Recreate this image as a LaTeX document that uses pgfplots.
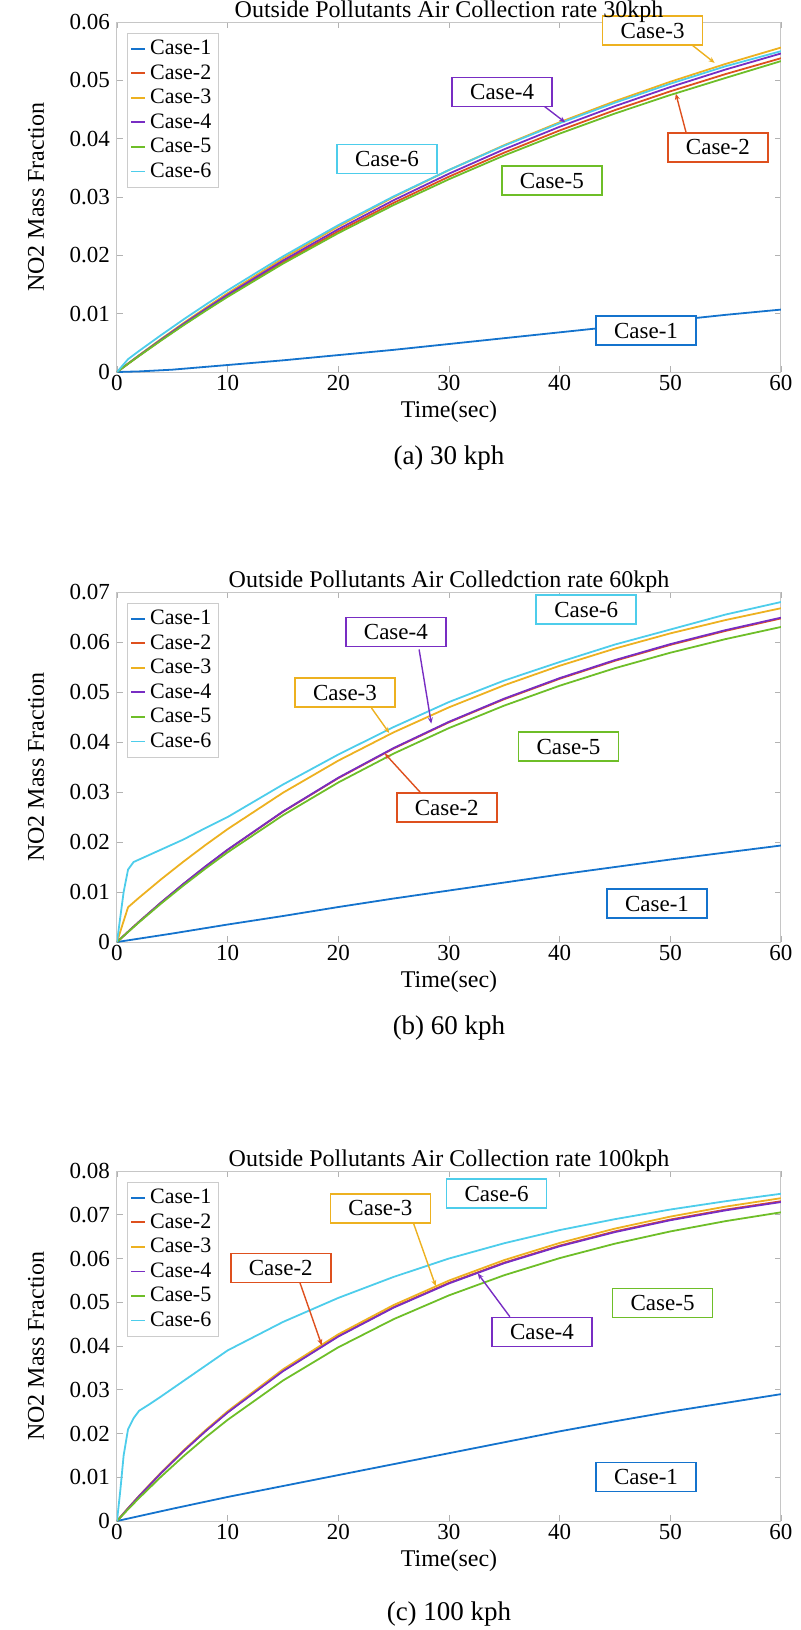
\documentclass[border=0pt]{standalone}
\usepackage{pgfplots}
\pgfplotsset{compat=1.18}
\usepackage{fontspec}
\setmainfont{Liberation Serif}
\usetikzlibrary{arrows.meta}
\definecolor{c1}{RGB}{20,115,205}
\definecolor{c2}{RGB}{222,80,30}
\definecolor{c3}{RGB}{237,177,32}
\definecolor{c4}{RGB}{120,45,195}
\definecolor{c5}{RGB}{110,190,40}
\definecolor{c6}{RGB}{77,205,235}
\tikzset{
  lab/.style={draw=#1, fill=white, line width=0.8pt, minimum width=50pt,
    minimum height=14.5pt, inner sep=1pt, font=\fontsize{11.5}{11.5}\selectfont},
  arr/.style={draw=#1, line width=0.7pt, -{Stealth[length=3pt,width=2.5pt]}},
}
\pgfplotsset{
  myax/.style={
    scale only axis, width=332pt, height=175pt,
    anchor=north west,
    xmin=0, xmax=60, ymin=0,
    xtick={0,10,...,60},
    axis line style={gray!45, line width=0.5pt},
    tick style={gray!60, line width=0.4pt}, major tick length=3pt,
    tick align=inside,
    ticklabel style={font=\fontsize{11.5}{11.5}\selectfont},
    xticklabel style={inner sep=1.5pt},
    /pgf/number format/assume math mode=true,
    yticklabel style={/pgf/number format/fixed, /pgf/number format/precision=2},
    scaled y ticks=false,
    xlabel={Time(sec)}, ylabel={NO2 Mass Fraction},
    every axis x label/.style={at={(axis description cs:0.5,-0.1143)}, anchor=center,
      font=\fontsize{12}{12}\selectfont},
    every axis y label/.style={at={(axis description cs:-0.122,0.5)}, rotate=90, anchor=center,
      font=\fontsize{12}{12}\selectfont},
    every axis title/.style={at={(axis description cs:0.5,1)}, anchor=base, yshift=2.5pt,
      font=\fontsize{12}{12}\selectfont},
    legend style={at={(0.015,0.970)}, anchor=north west, draw=gray!40,
      font=\fontsize{11}{11}\selectfont, row sep=-0.5pt, inner sep=1.5pt},
    legend cell align=left,
    legend image code/.code={\draw[#1] (0pt,0pt) -- (7pt,0pt);},
    every axis plot/.append style={line width=0.9pt},
    clip mode=individual,
  },
}
\begin{document}
\begin{tikzpicture}
\path[use as bounding box] (0,0) rectangle (400pt,-815pt);
% ---------------- (a) 30 kph
\begin{axis}[myax, at={(58.5pt,-11pt)}, ymax=0.06,
  ytick={0,0.01,...,0.06},
  title={Outside Pollutants Air Collection rate 30kph}]
\addplot[c1] coordinates {(0,0) (2,0.0001) (5,0.0004) (10,0.0012) (15,0.0020) (20,0.0029) (25,0.0038) (30,0.0048) (35,0.0058) (40,0.0068) (45,0.0078) (50,0.0088) (55,0.0098) (60,0.0107)};
\addplot[c2] coordinates {(0,0) (1,0.00141) (2,0.00279) (4,0.00549) (6,0.0081) (8,0.01062) (10,0.01306) (15,0.01882) (20,0.02413) (25,0.0290) (30,0.03349) (35,0.03761) (40,0.04141) (45,0.0449) (50,0.04812) (55,0.05108) (60,0.05379)};
\addplot[c3] coordinates {(0,0) (1,0.00145) (2,0.00289) (4,0.00568) (6,0.00838) (8,0.01098) (10,0.01351) (15,0.01947) (20,0.02495) (25,0.02999) (30,0.03463) (35,0.0389) (40,0.04282) (45,0.04643) (50,0.04976) (55,0.05282) (60,0.05562)};
\addplot[c4] coordinates {(0,0) (1,0.00143) (2,0.00283) (4,0.00557) (6,0.00823) (8,0.01078) (10,0.01326) (15,0.01911) (20,0.02449) (25,0.02945) (30,0.0340) (35,0.03819) (40,0.04204) (45,0.04558) (50,0.04885) (55,0.05186) (60,0.05461)};
\addplot[c5] coordinates {(0,0) (1,0.00139) (2,0.00276) (4,0.00542) (6,0.0080) (8,0.01048) (10,0.01289) (15,0.01858) (20,0.02381) (25,0.02863) (30,0.03305) (35,0.03713) (40,0.04087) (45,0.04432) (50,0.04749) (55,0.05042) (60,0.0533)};
\addplot[c6] coordinates {(0,0) (1,0.0022) (2,0.00362) (4,0.00635) (6,0.00899) (8,0.01153) (10,0.0140) (15,0.01982) (20,0.02518) (25,0.03011) (30,0.03464) (35,0.03881) (40,0.04265) (45,0.04617) (50,0.04942) (55,0.05242) (60,0.0550)};
\legend{Case-1,Case-2,Case-3,Case-4,Case-5,Case-6}
\draw[arr=c3] (axis cs:52.0,0.0560) -- (axis cs:54.0,0.0530);
\draw[arr=c4] (axis cs:38.3,0.0460) -- (axis cs:40.5,0.0428);
\draw[arr=c2] (axis cs:51.5,0.0405) -- (axis cs:50.5,0.0477);
\node[lab=c3] at (axis cs:48.4,0.0585) {Case-3};
\node[lab=c4] at (axis cs:34.8,0.0480) {Case-4};
\node[lab=c2] at (axis cs:54.3,0.0385) {Case-2};
\node[lab=c5] at (axis cs:39.3,0.0328) {Case-5};
\node[lab=c6] at (axis cs:24.4,0.0365) {Case-6};
\node[lab=c1] at (axis cs:47.8,0.0071) {Case-1};
\node[font=\fontsize{13.5}{13.5}\selectfont] at ([yshift=-43pt]rel axis cs:0.5,0) {(a) 30 kph};
\end{axis}
% ---------------- (b) 60 kph
\begin{axis}[myax, at={(58.5pt,-296pt)}, ymax=0.07,
  ytick={0,0.01,...,0.07},
  title={Outside Pollutants Air Colledction rate 60kph}]
\addplot[c1] coordinates {(0,0) (5,0.0017) (10,0.0035) (15,0.0052) (20,0.0070) (25,0.0087) (30,0.0103) (35,0.0119) (40,0.0135) (45,0.0150) (50,0.0165) (55,0.0179) (60,0.0193)};
\addplot[c2] coordinates {(0,0) (1,0.00206) (2,0.00407) (4,0.00793) (6,0.0116) (8,0.0151) (10,0.01843) (15,0.02605) (20,0.03278) (25,0.03871) (30,0.04395) (35,0.04857) (40,0.05265) (45,0.05625) (50,0.05943) (55,0.06223) (60,0.06472)};
\addplot[c3] coordinates {(0,0) (0.5,0.0035) (1,0.00696) (2,0.00888) (4,0.01257) (6,0.01607) (8,0.01941) (10,0.02259) (15,0.02986) (20,0.03628) (25,0.04194) (30,0.04694) (35,0.05136) (40,0.05525) (45,0.05869) (50,0.06173) (55,0.0644) (60,0.06676)};
\addplot[c4] coordinates {(0,0) (1,0.00206) (2,0.00407) (4,0.00795) (6,0.01163) (8,0.01514) (10,0.01847) (15,0.02611) (20,0.03286) (25,0.0388) (30,0.04405) (35,0.04869) (40,0.05278) (45,0.05639) (50,0.05958) (55,0.06238) (60,0.06487)};
\addplot[c5] coordinates {(0,0) (1,0.0020) (2,0.00396) (4,0.00772) (6,0.0113) (8,0.0147) (10,0.01794) (15,0.02536) (20,0.03191) (25,0.03769) (30,0.04279) (35,0.04729) (40,0.05126) (45,0.05477) (50,0.05786) (55,0.06059) (60,0.06301)};
\addplot[c6] coordinates {(0,0) (0.3,0.005) (0.6,0.010) (1,0.0145) (1.5,0.016) (2,0.0165) (3,0.0175) (4,0.0185) (6,0.0205) (8,0.0228) (10,0.0250) (15,0.0315) (20,0.0375) (25,0.0430) (30,0.0480) (35,0.0523) (40,0.0560) (45,0.0595) (50,0.0625) (55,0.0655) (60,0.0680)};
\legend{Case-1,Case-2,Case-3,Case-4,Case-5,Case-6}
\draw[arr=c4] (axis cs:27.3,0.0585) -- (axis cs:28.4,0.0437);
\draw[arr=c3] (axis cs:23.0,0.0468) -- (axis cs:24.6,0.0418);
\draw[arr=c2] (axis cs:27.5,0.0297) -- (axis cs:24.2,0.0377);
\node[lab=c6] at (axis cs:42.4,0.0665) {Case-6};
\node[lab=c4] at (axis cs:25.2,0.0620) {Case-4};
\node[lab=c3] at (axis cs:20.6,0.0499) {Case-3};
\node[lab=c5] at (axis cs:40.8,0.0391) {Case-5};
\node[lab=c2] at (axis cs:29.8,0.0269) {Case-2};
\node[lab=c1] at (axis cs:48.8,0.0077) {Case-1};
\node[font=\fontsize{13.5}{13.5}\selectfont] at ([yshift=-43pt]rel axis cs:0.5,0) {(b) 60 kph};
\end{axis}
% ---------------- (c) 100 kph
\begin{axis}[myax, at={(58.5pt,-585.5pt)}, ymax=0.08,
  ytick={0,0.01,...,0.08},
  title={Outside Pollutants Air Collection rate 100kph}]
\addplot[c1] coordinates {(0,0) (5,0.0028) (10,0.0055) (15,0.0080) (20,0.0105) (25,0.0130) (30,0.0155) (35,0.0180) (40,0.0205) (45,0.0228) (50,0.0250) (55,0.0270) (60,0.0290)};
\addplot[c2] coordinates {(0,0) (1,0.00291) (2,0.0057) (4,0.01102) (6,0.01597) (8,0.02058) (10,0.02486) (15,0.03434) (20,0.04227) (25,0.04889) (30,0.05444) (35,0.05908) (40,0.06295) (45,0.0662) (50,0.06891) (55,0.07118) (60,0.07309)};
\addplot[c3] coordinates {(0,0) (1,0.00293) (2,0.00576) (4,0.01113) (6,0.01613) (8,0.02077) (10,0.0251) (15,0.03467) (20,0.04268) (25,0.04937) (30,0.05497) (35,0.05965) (40,0.06356) (45,0.06684) (50,0.06958) (55,0.07187) (60,0.07379)};
\addplot[c4] coordinates {(0,0) (1,0.0029) (2,0.00569) (4,0.01099) (6,0.01593) (8,0.02053) (10,0.0248) (15,0.03425) (20,0.04217) (25,0.04878) (30,0.05431) (35,0.05894) (40,0.0628) (45,0.06604) (50,0.06875) (55,0.07101) (60,0.07291)};
\addplot[c5] coordinates {(0,0) (1,0.00268) (2,0.00526) (4,0.01018) (6,0.01479) (8,0.0191) (10,0.02313) (15,0.03211) (20,0.03971) (25,0.04614) (30,0.05158) (35,0.05619) (40,0.06009) (45,0.0634) (50,0.06619) (55,0.06855) (60,0.07056)};
\addplot[c6] coordinates {(0,0) (0.3,0.007) (0.6,0.015) (1,0.021) (1.5,0.0235) (2,0.0252) (3,0.0268) (4,0.0285) (6,0.0320) (8,0.0355) (10,0.0390) (15,0.0455) (20,0.0510) (25,0.0558) (30,0.0600) (35,0.0635) (40,0.0665) (45,0.0690) (50,0.0712) (55,0.0731) (60,0.0748)};
\legend{Case-1,Case-2,Case-3,Case-4,Case-5,Case-6}
\draw[arr=c3] (axis cs:26.8,0.0680) -- (axis cs:28.8,0.0537);
\draw[arr=c2] (axis cs:16.5,0.0547) -- (axis cs:18.5,0.0402);
\draw[arr=c4] (axis cs:35.5,0.0467) -- (axis cs:32.6,0.0566);
\node[lab=c6] at (axis cs:34.3,0.0748) {Case-6};
\node[lab=c3] at (axis cs:23.8,0.0715) {Case-3};
\node[lab=c2] at (axis cs:14.8,0.0578) {Case-2};
\node[lab=c5] at (axis cs:49.3,0.0498) {Case-5};
\node[lab=c4] at (axis cs:38.4,0.0432) {Case-4};
\node[lab=c1] at (axis cs:47.8,0.0101) {Case-1};
\node[font=\fontsize{13.5}{13.5}\selectfont] at ([yshift=-46.5pt]rel axis cs:0.5,0) {(c) 100 kph};
\end{axis}
\end{tikzpicture}
\end{document}
